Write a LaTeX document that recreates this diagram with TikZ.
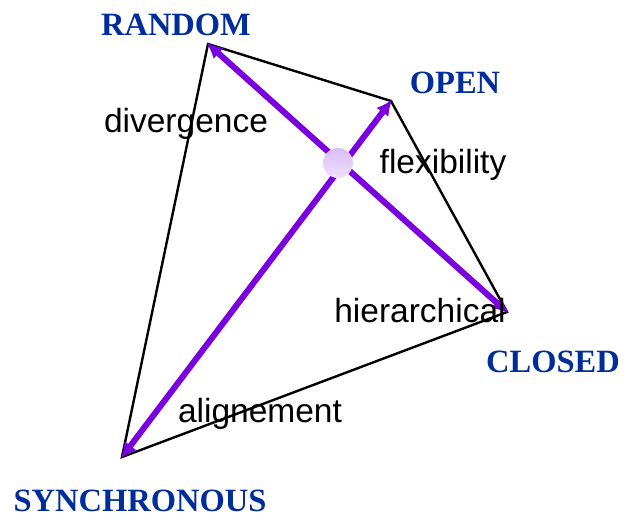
\documentclass[tikz,border=0pt]{standalone}
\usepackage{fontspec}
\setmainfont{Liberation Serif}
\newfontfamily\arialfont{Liberation Sans}
\usetikzlibrary{arrows.meta}

\definecolor{cornerblue}{RGB}{0,45,155}
\definecolor{axisviolet}{RGB}{122,0,224}
\definecolor{hubtop}{RGB}{218,190,248}
\definecolor{hubbottom}{RGB}{240,224,252}

\tikzset{
  corner/.style={text=cornerblue, font=\fontsize{32.5}{32.5}\selectfont\bfseries, anchor=base, inner sep=0pt, text depth=0pt},
  quality/.style={text=black, font=\arialfont\fontsize{33.5}{33.5}\selectfont, anchor=base, inner sep=0pt},
  edge/.style={black, line width=2.4pt, line join=miter},
  axis/.style={axisviolet, line width=6pt, {Latex[length=16pt,width=15pt]}-{Latex[length=16pt,width=15pt]}, shorten <=-2pt, shorten >=-2pt}
}

\begin{document}
\begin{tikzpicture}[x=1pt,y=-1pt]
    \useasboundingbox (0,0) rectangle (632,517);

    % corners of the quadrilateral
    \coordinate (random) at (208,44);
    \coordinate (open) at (391,101);
    \coordinate (closed) at (507,312);
    \coordinate (sync) at (122,457);

    \draw[edge] (random) -- (open) -- (closed) -- (sync) -- cycle;

    % the two axes
    \draw[axis] (closed) -- (random);
    \draw[axis] (sync) -- (open);

    \shade[top color=hubtop, bottom color=hubbottom] (338,163) circle (15);
    \node (hub) at (338,163) {};

    % labels
    \node[corner] (randomlabel) at (176,35) {RANDOM};
    \node[corner] (openlabel) at (455,93) {OPEN};
    \node[corner] (closedlabel) at (553,372) {CLOSED};
    \node[corner] (synclabel) at (140,511) {SYNCHRONOUS};

    \node[quality] (divergence) at (186,132) {divergence};
    \node[quality] (flexibility) at (443,173) {flexibility};
    \node[quality] (hierarchical) at (420,322) {hierarchical};
    \node[quality] (alignement) at (260,422) {alignement};
  \end{tikzpicture}
\end{document}
